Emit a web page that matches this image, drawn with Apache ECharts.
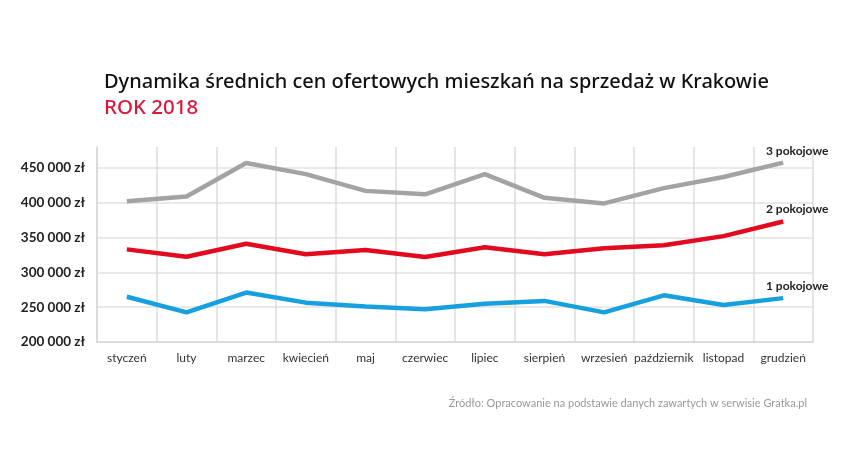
<!DOCTYPE html>
<html><head><meta charset="utf-8">
<script src="https://cdn.jsdelivr.net/npm/echarts@6/dist/echarts.min.js"></script>
<style>html,body{margin:0;padding:0;background:#fff}#c{width:852px;height:462px}</style>
</head><body><div id="c"></div>
<script>
var months = ['styczeń','luty','marzec','kwiecień','maj','czerwiec','lipiec','sierpień','wrzesień','październik','listopad','grudzień'];
var rooms3 = [402000, 409000, 457000, 441000, 417000, 412000, 441000, 407000, 399000, 421000, 437000, 457500];
var rooms2 = [333000, 322500, 341000, 326000, 332000, 322000, 336000, 326000, 334500, 339000, 352000, 373000];
var rooms1 = [265000, 242500, 271000, 256500, 251000, 247000, 255000, 259000, 242500, 267000, 253000, 263000];
var seriesNames = ['3 pokojowe','2 pokojowe','1 pokojowe'];
var yMin = 200000, yMax = 480000, yStep = 50000;

function fmt(v){ return String(v).replace(/\B(?=(\d{3})+(?!\d))/g, ' ') + ' zł'; }
function mk(name, data, color){
  return {
    name: name, type: 'line', data: data,
    symbol: 'none', lineStyle: {color: color, width: 4.5}, itemStyle:{color:color}, silent: true,
    endLabel: {show: true, formatter: name, color:'#222', fontFamily:'Lato', fontWeight:'bold', fontSize:12,
      align: 'center', verticalAlign: 'bottom', distance: 0, offset: [14, -6]}
  };
}
var chart = echarts.init(document.getElementById('c'));
chart.setOption({
  animation: false,
  title: [
    {text: 'Dynamika średnich cen ofertowych mieszkań na sprzedaż w Krakowie', left: 99, top: 67,
     textStyle: {fontFamily: 'Noto Sans', fontWeight: 500, fontSize: 20, color: '#111'}},
    {text: 'ROK 2018', left: 99, top: 93,
     textStyle: {fontFamily: 'Noto Sans', fontWeight: 500, fontSize: 20.5, color: '#d9183b'}},
    {text: 'Źródło: Opracowanie na podstawie danych zawartych w serwisie Gratka.pl', right: 40, top: 393,
     textStyle: {fontFamily: 'Lato', fontWeight: 'normal', fontSize: 11, color: '#999'}}
  ],
  grid: {left: 97, right: 39, top: 147, bottom: 120, containLabel: false},
  xAxis: {type: 'category', data: months, boundaryGap: true,
    axisLine: {show: true, lineStyle: {color: '#d8d8d8', width: 1.5}},
    axisTick: {show: false},
    axisLabel: {color: '#333', fontFamily: 'Lato', fontSize: 12, margin: 10, interval: 0},
    splitLine: {show: true, lineStyle: {color: '#dcdcdc', width: 1.5}}
  },
  yAxis: {type: 'value', min: yMin, max: yMax, interval: yStep,
    axisLine: {show: true, lineStyle: {color: '#d8d8d8', width: 1.5}},
    axisTick: {show: false},
    axisLabel: {color: '#222', fontFamily: 'Lato', fontWeight: 'bold', fontSize: 13.5, margin: 12,
      formatter: function(v){ return v === yMax ? '' : fmt(v); }},
    splitLine: {show: true, lineStyle: {color: ['#e2e2e2','#e2e2e2','#e2e2e2','#e2e2e2','#e2e2e2','#e2e2e2','rgba(0,0,0,0)'], width: 1.5}}
  },
  series: [mk(seriesNames[0], rooms3, '#a3a3a3'), mk(seriesNames[1], rooms2, '#e10a1e'), mk(seriesNames[2], rooms1, '#16a0de')]
});
</script></body></html>
